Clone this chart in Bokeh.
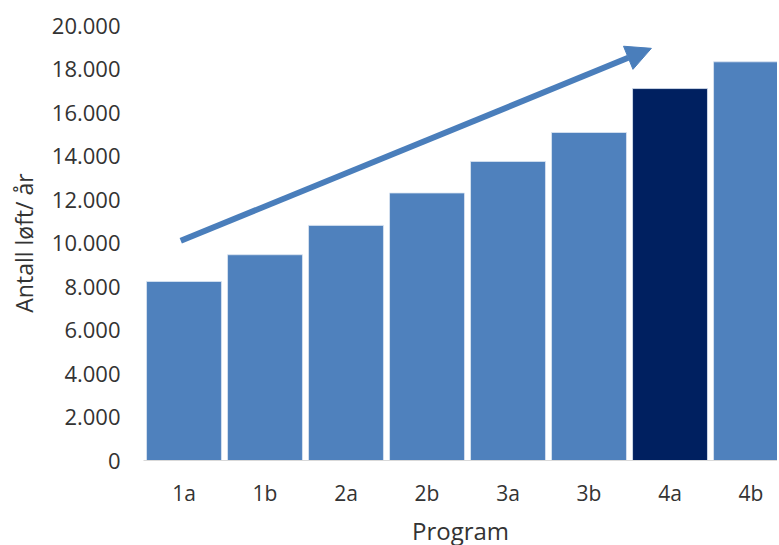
from bokeh.plotting import figure
from bokeh.models import ColumnDataSource, Range1d, FixedTicker, Arrow, NormalHead
from bokeh.embed import file_html
from bokeh.resources import INLINE

# ---- data ----
programs = ["1a", "1b", "2a", "2b", "3a", "3b", "4a", "4b"]
values = [8230, 9460, 10810, 12300, 13750, 15080, 17100, 18330]
highlight = "4a"
y_ticks = [0, 2000, 4000, 6000, 8000, 10000, 12000, 14000, 16000, 18000, 20000]
y_tick_labels = ["0", "2.000", "4.000", "6.000", "8.000", "10.000", "12.000",
                 "14.000", "16.000", "18.000", "20.000"]
# trend arrow (annotation), in data units: (category position, value)
arrow_start = (-0.04, 10100)
arrow_end = (5.77, 18950)

BLUE = "#4F81BD"
NAVY = "#002060"
TEXT = "#333333"
FONT = "Open Sans"

xs = list(range(len(programs)))
colors = [NAVY if p == highlight else BLUE for p in programs]
src = ColumnDataSource(dict(x=xs, top=values, color=colors, name=programs))

p = figure(frame_width=634, frame_height=435, output_backend="svg", toolbar_location=None,
           x_range=Range1d(-0.5, 7.327), y_range=Range1d(0, 20000),
           min_border_left=143, min_border_right=0, min_border_top=25,
           min_border_bottom=0)
p.outline_line_color = None
p.grid.grid_line_color = None
p.background_fill_color = "white"

p.vbar(x="x", top="top", bottom=0, width=0.925, fill_color="color",
       line_color="#DCE6F2", line_width=0.8, source=src)

arrow = Arrow(x_start=arrow_start[0], y_start=arrow_start[1],
              x_end=arrow_end[0], y_end=arrow_end[1],
              line_color="#4A7EBB", line_width=6,
              end=NormalHead(size=25, fill_color="#4A7EBB", line_color="#4A7EBB", line_width=1))
p.add_layout(arrow)

# x axis
xa = p.xaxis[0]
xa.ticker = FixedTicker(ticks=xs)
xa.major_label_overrides = {i: s for i, s in enumerate(programs)}
xa.axis_line_color = "#D9D9D9"
xa.axis_line_width = 1
xa.major_tick_line_color = None
xa.minor_tick_line_color = None
xa.major_label_text_font = FONT
xa.major_label_text_font_size = "21px"
xa.major_label_text_color = TEXT
xa.major_label_standoff = 12
xa.axis_label = "Program"
xa.axis_label_text_font = FONT
xa.axis_label_text_font_size = "24px"
xa.axis_label_text_font_style = "normal"
xa.axis_label_text_color = TEXT
xa.axis_label_standoff = 4

# y axis
ya = p.yaxis[0]
ya.ticker = FixedTicker(ticks=y_ticks)
ya.major_label_overrides = {t: s for t, s in zip(y_ticks, y_tick_labels)}
ya.axis_line_color = None
ya.major_tick_line_color = None
ya.minor_tick_line_color = None
ya.major_label_text_font = FONT
ya.major_label_text_font_size = "22px"
ya.major_label_text_color = TEXT
ya.major_label_standoff = 17
ya.axis_label = "Antall løft/ år"
ya.axis_label_text_font = FONT
ya.axis_label_text_font_size = "23px"
ya.axis_label_text_font_style = "normal"
ya.axis_label_text_color = TEXT
ya.axis_label_standoff = 9

open("out.html", "w").write(file_html(p, INLINE))
